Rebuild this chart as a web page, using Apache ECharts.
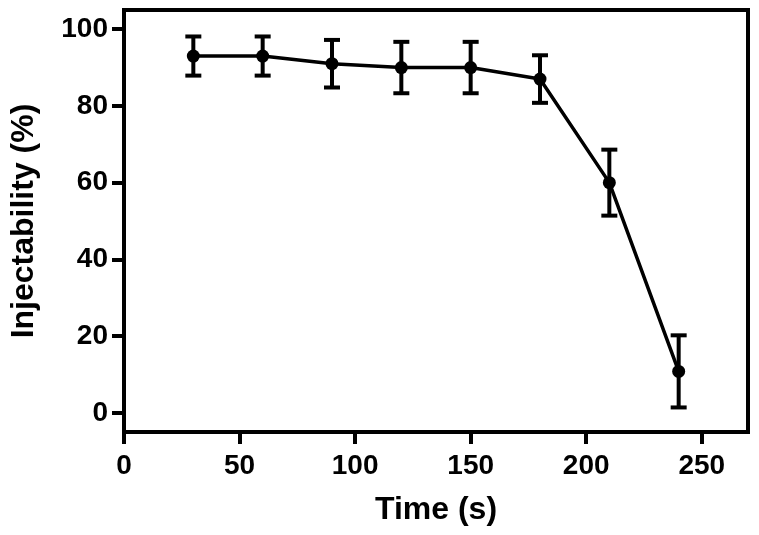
<!DOCTYPE html>
<html>
<head>
<meta charset="utf-8">
<script src="https://cdn.jsdelivr.net/npm/echarts@6/dist/echarts.min.js"></script>
<style>
  html, body { margin: 0; padding: 0; background: #fff; }
  #chart { width: 759px; height: 535px; }
</style>
</head>
<body>
<div id="chart"></div>
<script>
// time points (s)
const times = [30, 60, 90, 120, 150, 180, 210, 240]
// mean injectability (%)
const means = [93, 93, 91, 90, 90, 87, 60, 10.8]
// error (+/-)
const errors = [5.1, 5.1, 6.2, 6.7, 6.7, 6.2, 8.6, 9.4]
const xTicks = [0, 50, 100, 150, 200, 250]
const yTicks = [0, 20, 40, 60, 80, 100]

const myChart = echarts.init(document.getElementById('chart'))
const fontFamily = '"Liberation Sans", Arial, sans-serif'

myChart.setOption({
  animation: false,
  grid: {
    left: 121,
    right: 11,
    top: 10,
    bottom: 103,
    show: true,
    borderColor: '#000',
    borderWidth: 4
  },
  xAxis: {
    type: 'value',
    min: 0,
    max: 270,
    name: 'Time (s)',
    nameLocation: 'middle',
    nameGap: 62,
    nameTextStyle: { color: '#000', fontSize: 32, fontWeight: 'bold', fontFamily },
    axisLine: { onZero: false, lineStyle: { color: '#000', width: 4 } },
    axisTick: { show: true, inside: false, length: 12, lineStyle: { color: '#000', width: 4 }, customValues: xTicks },
    axisLabel: { color: '#000', fontSize: 28, fontWeight: 'bold', fontFamily, margin: 20, customValues: xTicks },
    splitLine: { show: false }
  },
  yAxis: {
    type: 'value',
    min: -5,
    max: 105,
    name: 'Injectability (%)',
    nameLocation: 'middle',
    nameGap: 84,
    nameTextStyle: { color: '#000', fontSize: 32, fontWeight: 'bold', fontFamily },
    axisLine: { onZero: false, lineStyle: { color: '#000', width: 4 } },
    axisTick: { show: true, inside: false, length: 12, lineStyle: { color: '#000', width: 4 }, customValues: yTicks },
    axisLabel: { color: '#000', fontSize: 28, fontWeight: 'bold', fontFamily, margin: 16, customValues: yTicks },
    splitLine: { show: false }
  },
  series: [
    {
      type: 'custom',
      name: 'error',
      data: times.map((t, i) => [t, means[i] - errors[i], means[i] + errors[i]]),
      renderItem: function(params, api) {
        const lo = api.coord([api.value(0), api.value(1)])
        const hi = api.coord([api.value(0), api.value(2)])
        const half = 8
        const style = { stroke: '#000', lineWidth: 4 }
        return {
          type: 'group',
          children: [
            { type: 'line', shape: { x1: hi[0], y1: hi[1], x2: lo[0], y2: lo[1] }, style },
            { type: 'line', shape: { x1: hi[0] - half, y1: hi[1], x2: hi[0] + half, y2: hi[1] }, style },
            { type: 'line', shape: { x1: lo[0] - half, y1: lo[1], x2: lo[0] + half, y2: lo[1] }, style }
          ]
        }
      },
      z: 2
    },
    {
      type: 'line',
      name: 'mean',
      data: times.map((t, i) => [t, means[i]]),
      symbol: 'circle',
      symbolSize: 13,
      itemStyle: { color: '#000' },
      lineStyle: { color: '#000', width: 3.5 },
      z: 3
    }
  ]
})
</script>
</body>
</html>
